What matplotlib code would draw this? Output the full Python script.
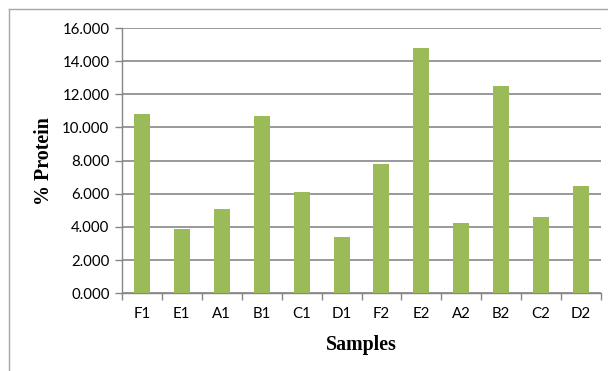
import matplotlib.pyplot as plt
from matplotlib.lines import Line2D

samples = ['F1', 'E1', 'A1', 'B1', 'C1', 'D1', 'F2', 'E2', 'A2', 'B2', 'C2', 'D2']
protein = [10.80, 3.87, 5.08, 10.67, 6.10, 3.37, 7.78, 14.77, 4.23, 12.52, 4.59, 6.47]
yticks = [0, 2, 4, 6, 8, 10, 12, 14, 16]

W, H = 608, 371
fig = plt.figure(figsize=(W / 100, H / 100), dpi=100)
ax = fig.add_axes([122 / W, 1 - 293.3 / H, (601 - 122) / W, (293.3 - 28) / H])

x = range(len(samples))
ax.bar(x, protein, width=0.4, color='#9BBB59', zorder=3)

ax.set_xlim(-0.5, len(samples) - 0.5)
ax.set_ylim(0, 16)
ax.set_yticks(yticks)
ax.set_yticklabels(['%.3f' % v for v in yticks])
ax.set_xticks(list(x))
ax.set_xticklabels(samples)

# category boundary ticks on the x axis
ax.set_xticks([i - 0.5 for i in range(len(samples) + 1)], minor=True)
ax.tick_params(axis='x', which='major', length=0, pad=10)
ax.tick_params(axis='x', which='minor', length=5, width=1, color='#868686', direction='out')
ax.tick_params(axis='y', length=5, width=1, color='#868686', direction='out', pad=4)

for lab in ax.get_xticklabels() + ax.get_yticklabels():
    lab.set_fontfamily('Lato')
    lab.set_fontsize(10.8)
    lab.set_color('black')

ax.grid(axis='y', color='#999999', linewidth=1.4, zorder=0)
for side in ['top', 'right']:
    ax.spines[side].set_visible(False)
for side in ['left', 'bottom']:
    ax.spines[side].set_color('#868686')
    ax.spines[side].set_linewidth(1)

ax.set_xlabel('Samples', fontfamily='Liberation Serif', fontweight='bold', fontsize=14.4)
ax.set_ylabel('% Protein', fontfamily='Liberation Serif', fontweight='bold', fontsize=14.4)
ax.xaxis.set_label_coords(0.5, (293.3 - 345) / (293.3 - 28))
ax.yaxis.set_label_coords((44 - 122) / (601 - 122), 0.5)
ax.xaxis.label.set_verticalalignment('center')
ax.yaxis.label.set_verticalalignment('center')

# outer chart border (top and left edges visible)
fy = 1 - 9 / H
fx = 9 / W
fig.add_artist(Line2D([fx, 1], [fy, fy], color='#A6A6A6', linewidth=1))
fig.add_artist(Line2D([fx, fx], [0, fy], color='#A6A6A6', linewidth=1))

fig.savefig('out.png', dpi=100)
